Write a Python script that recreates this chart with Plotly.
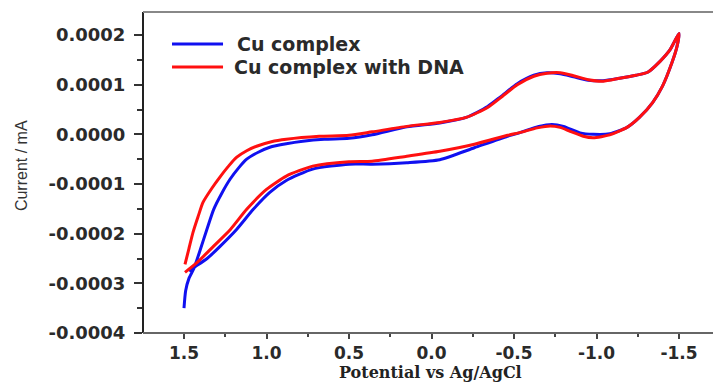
import plotly.graph_objects as go

# ---- data ----
series_names = ["Cu complex", "Cu complex with DNA"]
series_colors = ["#1010f0", "#ff1010"]

# Cu complex: loop from 1.5 V up the inner branch to -1.5 V, then back along the lower branch
cu_potential = [1.50, 1.49, 1.47, 1.44, 1.40, 1.36, 1.32, 1.27, 1.22, 1.17, 1.12, 1.05, 0.98, 0.88,
                0.78, 0.65, 0.50, 0.36, 0.15, -0.05, -0.21, -0.34, -0.42, -0.52, -0.62, -0.70,
                -0.78, -0.86, -0.95, -1.04, -1.14, -1.24, -1.31, -1.385, -1.445, -1.50,
                -1.488, -1.458, -1.40, -1.34, -1.26, -1.185, -1.08, -0.98, -0.90, -0.80, -0.73,
                -0.65, -0.54, -0.46, -0.26, -0.05, 0.15, 0.36, 0.50, 0.72, 0.88, 0.98, 1.08,
                1.18, 1.28, 1.36, 1.44, 1.47]
cu_current = [-3.50e-4, -3.15e-4, -2.90e-4, -2.70e-4, -2.31e-4, -1.90e-4, -1.51e-4, -1.18e-4,
              -0.90e-4, -0.68e-4, -0.50e-4, -0.36e-4, -0.26e-4, -0.19e-4, -0.14e-4, -0.10e-4,
              -0.08e-4, -0.01e-4, 0.15e-4, 0.23e-4, 0.34e-4, 0.56e-4, 0.76e-4, 1.02e-4,
              1.19e-4, 1.24e-4, 1.22e-4, 1.16e-4, 1.09e-4, 1.08e-4, 1.13e-4, 1.19e-4, 1.25e-4,
              1.47e-4, 1.70e-4, 2.03e-4,
              1.77e-4, 1.45e-4, 0.97e-4, 0.64e-4, 0.34e-4, 0.14e-4, 0.01e-4, 0.00e-4, 0.03e-4,
              0.16e-4, 0.20e-4, 0.16e-4, 0.04e-4, -0.04e-4, -0.27e-4, -0.51e-4, -0.57e-4,
              -0.60e-4, -0.60e-4, -0.70e-4, -0.93e-4, -1.17e-4, -1.51e-4, -1.91e-4, -2.25e-4,
              -2.50e-4, -2.68e-4, -2.75e-4]

# Cu complex with DNA
dna_potential = [1.494, 1.47, 1.445, 1.415, 1.385, 1.33, 1.28, 1.23, 1.18, 1.12, 1.06, 0.97, 0.88,
                 0.68, 0.50, 0.36, 0.15, -0.05, -0.21, -0.34, -0.42, -0.52, -0.62, -0.70, -0.78,
                 -0.86, -0.95, -1.04, -1.14, -1.24, -1.31, -1.385, -1.445, -1.50,
                 -1.488, -1.458, -1.40, -1.34, -1.26, -1.185, -1.08, -0.98, -0.92, -0.84, -0.78,
                 -0.72, -0.64, -0.54, -0.46, -0.26, -0.05, 0.15, 0.36, 0.50, 0.72, 0.88, 1.00,
                 1.12, 1.22, 1.32, 1.42, 1.494]
dna_current = [-2.62e-4, -2.30e-4, -1.97e-4, -1.66e-4, -1.37e-4, -1.08e-4, -0.85e-4, -0.64e-4,
               -0.46e-4, -0.33e-4, -0.24e-4, -0.15e-4, -0.10e-4, -0.04e-4, -0.02e-4, 0.05e-4,
               0.16e-4, 0.24e-4, 0.34e-4, 0.54e-4, 0.74e-4, 1.00e-4, 1.17e-4, 1.23e-4, 1.24e-4,
               1.18e-4, 1.10e-4, 1.07e-4, 1.13e-4, 1.19e-4, 1.25e-4, 1.47e-4, 1.70e-4, 2.03e-4,
               1.77e-4, 1.45e-4, 0.97e-4, 0.64e-4, 0.34e-4, 0.14e-4, -0.01e-4, -0.07e-4,
               -0.04e-4, 0.06e-4, 0.14e-4, 0.17e-4, 0.13e-4, 0.04e-4, -0.02e-4, -0.20e-4,
               -0.34e-4, -0.44e-4, -0.54e-4, -0.55e-4, -0.64e-4, -0.84e-4, -1.11e-4, -1.51e-4,
               -1.92e-4, -2.25e-4, -2.58e-4, -2.78e-4]

x_tick_values = [1.5, 1.0, 0.5, 0.0, -0.5, -1.0, -1.5]
x_tick_labels = ["1.5", "1.0", "0.5", "0.0", "-0.5", "-1.0", "-1.5"]
y_tick_values = [0.0002, 0.0001, 0.0, -0.0001, -0.0002, -0.0003, -0.0004]
y_tick_labels = ["0.0002", "0.0001", "0.0000", "-0.0001", "-0.0002", "-0.0003", "-0.0004"]

x_title = "Potential vs Ag/AgCl"
y_title = "Current / mA"

# ---- figure ----
fig = go.Figure()
for name, color, xs, ys in [(series_names[0], series_colors[0], cu_potential, cu_current),
                            (series_names[1], series_colors[1], dna_potential, dna_current)]:
    fig.add_trace(go.Scatter(x=xs, y=ys, mode="lines", name=name,
                             line=dict(color=color, width=3, shape="spline", smoothing=0.6),
                             showlegend=False))

y_tick_font = dict(family="DejaVu Sans", size=18, color="#2a2a2a", weight="bold")
x_tick_font = dict(family="DejaVu Sans", size=17, color="#2a2a2a", weight="bold")

fig.update_layout(
    width=713, height=382,
    margin=dict(l=143, r=0, t=12, b=49),
    paper_bgcolor="white", plot_bgcolor="white",
    xaxis=dict(range=[1.7485, -1.706], tickmode="array", tickvals=x_tick_values,
               ticktext=x_tick_labels, ticks="outside", ticklen=5, tickwidth=1.5,
               tickcolor="#444", showline=False,
               showgrid=False, zeroline=False, tickfont=x_tick_font, ticklabelstandoff=0,
               minor=dict(dtick=0.25, tick0=0, ticks="outside", ticklen=3, tickcolor="#444",
                          showgrid=False)),
    yaxis=dict(range=[-0.0004, 0.0002463], tickmode="array", tickvals=y_tick_values,
               ticktext=y_tick_labels, ticks="outside", ticklen=8, tickwidth=1.5,
               tickcolor="#333", showline=False,
               showgrid=False, zeroline=False, tickfont=y_tick_font, ticklabelstandoff=5,
               minor=dict(dtick=0.00005, tick0=0, ticks="outside", ticklen=5, tickcolor="#333",
                          showgrid=False)),
)

# frame: left spine, bottom spine and top line (no right spine in the reference)
fig.add_shape(type="line", xref="paper", yref="paper", x0=0, x1=0, y0=0, y1=1,
              line=dict(color="#222", width=2))
fig.add_shape(type="line", xref="paper", yref="paper", x0=0, x1=1, y0=0, y1=0,
              line=dict(color="#666", width=2))
fig.add_shape(type="line", xref="paper", yref="paper", x0=0, x1=1, y0=1, y1=1,
              line=dict(color="#888", width=2))

# manual legend (top-left inside the plot)
legend_rows = [(0.9003, 0.1614), (0.8287, 0.1560)]
for (ly, tx), name, color in zip(legend_rows, series_names, series_colors):
    fig.add_shape(type="line", xref="paper", yref="paper", x0=0.0509, x1=0.1404, y0=ly, y1=ly,
                  line=dict(color=color, width=3))
    fig.add_annotation(xref="paper", yref="paper", x=tx, y=ly, xanchor="left", yanchor="middle",
                       text=name, showarrow=False,
                       font=dict(family="DejaVu Sans", size=19, color="#2a2a2a", weight="bold"))

fig.add_annotation(xref="paper", yref="paper", x=0.505, y=-0.123, xanchor="center",
                   yanchor="middle", text=x_title, showarrow=False,
                   font=dict(family="DejaVu Serif", size=16, color="#222", weight="bold"))
fig.add_annotation(xref="paper", yref="paper", x=-0.214, y=0.52, xanchor="center",
                   yanchor="middle", text=y_title, showarrow=False, textangle=-90,
                   font=dict(family="Liberation Sans", size=16, color="#333"))

fig.write_html("out.html")
